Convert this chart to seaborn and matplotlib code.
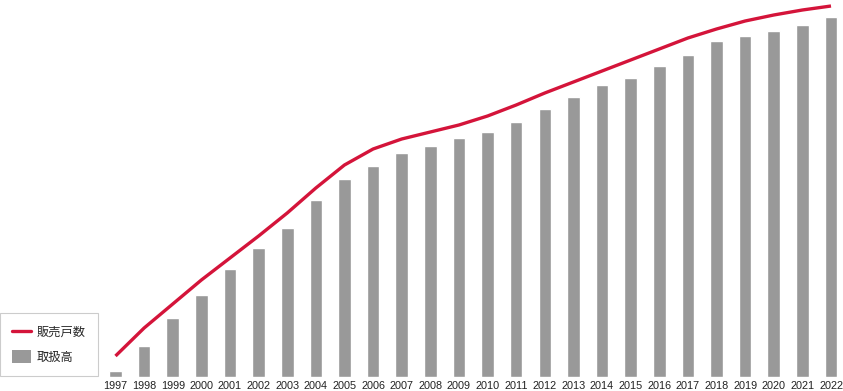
import matplotlib
matplotlib.use("Agg")
import matplotlib.pyplot as plt
from matplotlib import font_manager
from matplotlib.lines import Line2D
from matplotlib.patches import Patch
import seaborn as sns
import pandas as pd
import numpy as np

years = [str(y) for y in range(1997, 2023)]
# 取扱高 (bars) in relative units
handling = [6, 31, 59, 82, 108, 129, 149, 177, 198, 211, 224, 231, 239,
            245, 255, 268, 280, 292, 299, 311, 322, 336, 341, 346, 352, 360]
# 販売戸数 (line), same relative units
households = [21, 49, 73, 97, 119, 141, 164, 189, 212, 228, 238, 245, 252,
              261, 272, 284, 295, 306, 317, 328, 339, 348, 356, 362, 367, 371]

bar_color = "#999999"
line_color = "#d4143a"

sns.set_style("white")
plt.rcParams["font.family"] = ["Noto Sans CJK JP", "DejaVu Sans"]

installed = {f.name for f in font_manager.fontManager.ttflist}
tick_family = "Liberation Sans Narrow" if "Liberation Sans Narrow" in installed else "Liberation Sans"

df = pd.DataFrame({"year": years, "handling": handling, "households": households})
df["pos"] = np.arange(len(df))

fig = plt.figure(figsize=(8.43, 3.91), dpi=100)
# axes span the full width; baseline sits at y = 377 px
ax = fig.add_axes([0, 14 / 391, 1, 377 / 391])

sns.barplot(data=df, x="year", y="handling", color=bar_color, width=0.44,
            saturation=1, ax=ax, zorder=2)
sns.lineplot(data=df, x="pos", y="households", color=line_color, linewidth=2.4,
             ax=ax, zorder=3)
ax.lines[-1].set_solid_joinstyle("round")
ax.lines[-1].set_solid_capstyle("butt")

pitch = 28.62
ax.set_xlim(-115.5 / pitch, (843 - 115.5) / pitch)
ax.set_ylim(0, 377)

for s in ax.spines.values():
    s.set_visible(False)
ax.set_yticks([])
ax.set_xlabel("")
ax.set_ylabel("")
ax.set_xticks(np.arange(len(years)))
ax.set_xticklabels(years, fontsize=7.8, family=tick_family, color="#222222")
ax.tick_params(axis="x", length=0, pad=3)

handles = [Line2D([], [], color=line_color, linewidth=2.4),
           Patch(facecolor=bar_color, edgecolor="none")]
leg = fig.legend(handles, ["販売戸数", "取扱高"], loc="lower left",
                 bbox_to_anchor=(0.0, 15 / 391), fontsize=8.8, frameon=True,
                 fancybox=False, framealpha=1, edgecolor="#cccccc",
                 handlelength=1.5, handleheight=1.3, handletextpad=0.5,
                 labelspacing=0.9, borderpad=1.0, borderaxespad=0)
leg.get_frame().set_linewidth(0.8)

fig.savefig("out.png", dpi=100)
